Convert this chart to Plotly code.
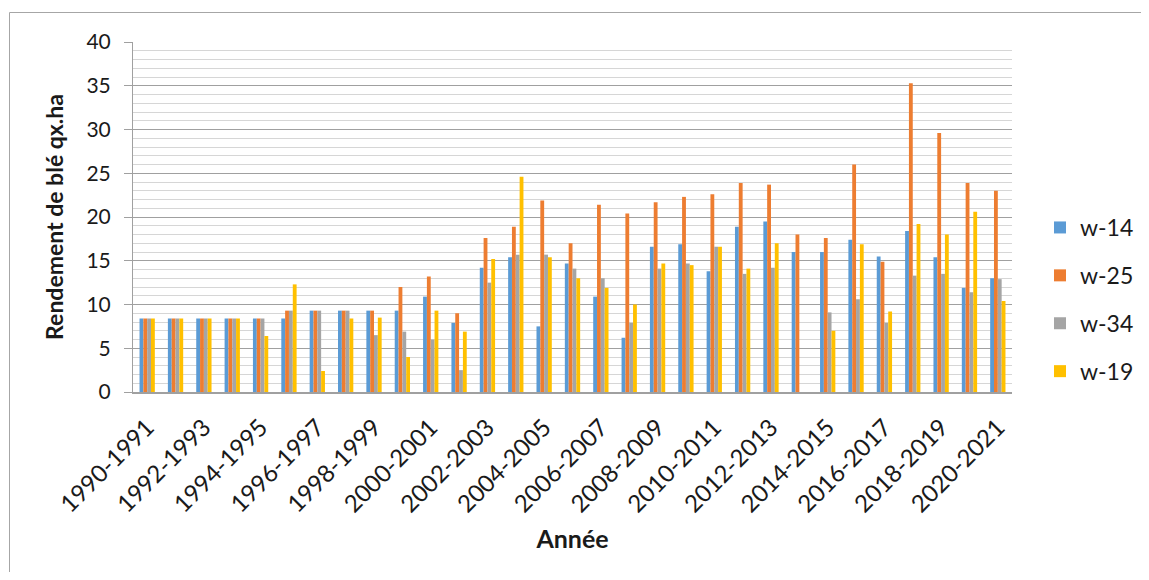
import plotly.graph_objects as go

years = list(range(1990, 2021))
categories = [f"{y}-{y+1}" for y in years]

w14 = [8.4, 8.4, 8.4, 8.4, 8.4, 8.4, 9.3, 9.3, 9.3, 9.3, 10.9, 7.9, 14.2, 15.4, 7.5, 14.7,
       10.9, 6.2, 16.6, 16.9, 13.8, 18.9, 19.5, 16.0, 16.0, 17.4, 15.5, 18.4, 15.4, 11.9, 13.0]
w25 = [8.4, 8.4, 8.4, 8.4, 8.4, 9.3, 9.3, 9.3, 9.3, 12.0, 13.2, 9.0, 17.6, 18.9, 21.9, 17.0,
       21.4, 20.4, 21.7, 22.3, 22.6, 23.9, 23.7, 18.0, 17.6, 26.0, 14.9, 35.3, 29.6, 23.9, 23.0]
w34 = [8.4, 8.4, 8.4, 8.4, 8.4, 9.3, 9.3, 9.3, 6.5, 6.9, 6.0, 2.5, 12.5, 15.7, 15.7, 14.1,
       13.0, 7.9, 14.1, 14.7, 16.6, 13.5, 14.2, None, 9.1, 10.6, 7.9, 13.3, 13.5, 11.4, 12.9]
w19 = [8.4, 8.4, 8.4, 8.4, 6.4, 12.3, 2.4, 8.4, 8.5, 4.0, 9.3, 6.9, 15.2, 24.6, 15.4, 13.0,
       11.9, 10.0, 14.7, 14.5, 16.6, 14.1, 17.0, None, 7.0, 16.9, 9.2, 19.2, 18.0, 20.6, 10.4]

series_names = ["w-14", "w-25", "w-34", "w-19"]
series_values = [w14, w25, w34, w19]
colors = ["#5B9BD5", "#ED7D31", "#A5A5A5", "#FFC000"]

FONT = "Lato"
OFF = 8  # browser body margin
W, H = 1149 - 2 * OFF, 580 - 2 * OFF
L, R, T, B = 133 - OFF, 1012 - OFF, 42 - OFF, 392 - OFF

fig = go.Figure()
for name, vals, col in zip(series_names, series_values, colors):
    fig.add_trace(go.Bar(x=categories, y=vals, name=name, marker_color=col,
                         marker_line_width=0, legendgroup=name))

def px_x(p):
    return (p - OFF - L) / (R - L)

def px_y(p):
    return (B - (p - OFF)) / (B - T)

border = dict(color="#A6A6A6", width=1)
fig.update_layout(
    width=W, height=H,
    margin=dict(l=L, r=W - R, t=T, b=H - B, autoexpand=False),
    paper_bgcolor="white", plot_bgcolor="white",
    font=dict(family=FONT, color="#1a1a1a"),
    barmode="group", bargap=0.46, bargroupgap=0,
    legend=dict(x=px_x(1040), y=px_y(206), xanchor="left", yanchor="top",
                font=dict(size=23, family=FONT), tracegroupgap=15,
                bgcolor="rgba(0,0,0,0)"),
    shapes=[
        dict(type="line", xref="paper", yref="paper",
             x0=px_x(9.5), x1=px_x(9.5), y0=px_y(600), y1=px_y(12.5), line=border, layer="below"),
        dict(type="line", xref="paper", yref="paper",
             x0=px_x(9.5), x1=px_x(1200), y0=px_y(12.5), y1=px_y(12.5), line=border, layer="below"),
    ],
)

fig.update_yaxes(
    range=[0, 40], dtick=5, tick0=0,
    showgrid=True, gridcolor="#A0A0A0", gridwidth=1.3,
    minor=dict(dtick=1, showgrid=True, gridcolor="#D6D6D6", gridwidth=1, ticks=""),
    showline=True, linecolor="#A0A0A0", linewidth=1,
    ticks="outside", ticklen=8, tickcolor="#A0A0A0",
    tickfont=dict(size=21, family=FONT, color="#1a1a1a"),
    ticklabelstandoff=9,
    zeroline=False,
    title=dict(text="<b>Rendement de blé qx.ha</b>", font=dict(size=23, family=FONT, color="#1a1a1a"), standoff=16),
)
fig.update_xaxes(
    tickmode="array", tickvals=categories[::2], ticktext=categories[::2],
    tickangle=-45, tickfont=dict(size=24, family=FONT, color="#1a1a1a"),
    showline=True, linecolor="#A0A0A0", linewidth=1.5,
    ticks="", showgrid=False, ticklabelstandoff=10,
    title=dict(text="<b>Année</b>", font=dict(size=25, family=FONT, color="#1a1a1a"), standoff=14),
)

fig.write_html("out.html")
